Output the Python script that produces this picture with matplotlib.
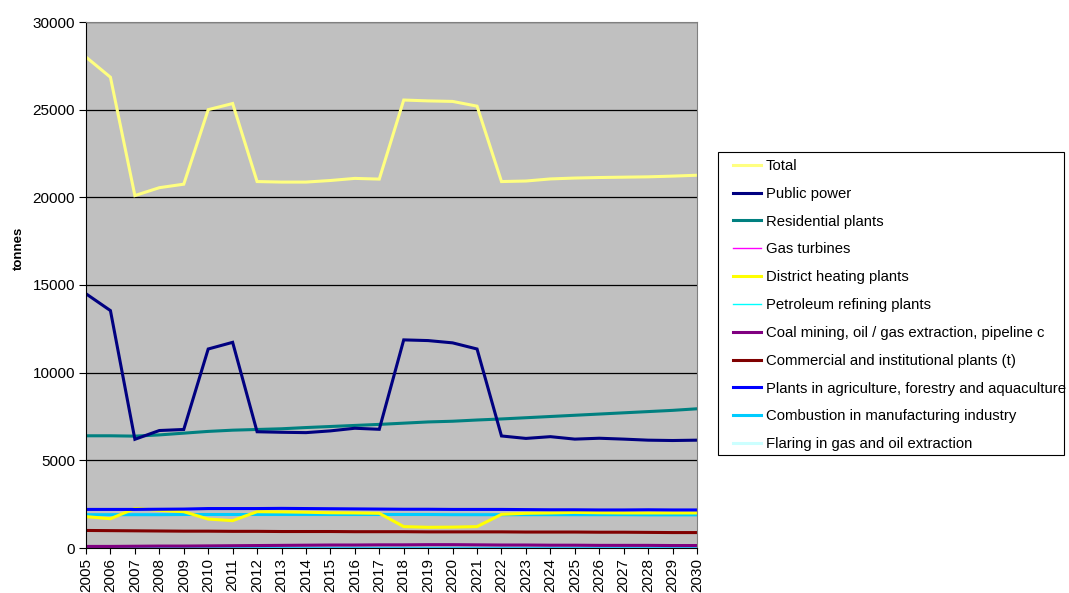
import matplotlib
matplotlib.use("Agg")
import matplotlib.pyplot as plt
from matplotlib.patches import Rectangle

plt.rcParams['font.family'] = ['Liberation Sans', 'DejaVu Sans']

years = list(range(2005, 2031))

total = [28000, 26850, 20100, 20550, 20750, 25000, 25350, 20900, 20870, 20870,
         20960, 21080, 21040, 25550, 25500, 25470, 25200, 20900, 20930, 21050,
         21100, 21130, 21150, 21170, 21210, 21260]
public_power = [14500, 13540, 6200, 6700, 6760, 11350, 11730, 6630, 6600, 6580,
                6680, 6830, 6770, 11870, 11830, 11700, 11350, 6390, 6250, 6350,
                6210, 6260, 6210, 6150, 6130, 6150]
residential = [6400, 6400, 6380, 6450, 6550, 6650, 6720, 6760, 6800, 6870,
               6930, 6990, 7050, 7120, 7190, 7230, 7300, 7360, 7430, 7500,
               7570, 7640, 7710, 7780, 7850, 7940]
gas_turbines = [20, 20, 20, 20, 20, 20, 20, 20, 20, 20,
                20, 20, 20, 20, 20, 20, 20, 20, 20, 20,
                20, 20, 20, 20, 20, 20]
district_heating = [1790, 1670, 2250, 2150, 2070, 1650, 1560, 2070, 2060, 2040,
                    2010, 2000, 1980, 1220, 1180, 1190, 1220, 1920, 1980, 2000,
                    2030, 2010, 2000, 2000, 2000, 2000]
petroleum = [40, 40, 40, 40, 40, 40, 40, 40, 40, 40,
             40, 40, 40, 40, 40, 40, 40, 40, 40, 40,
             40, 40, 40, 40, 40, 40]
coal_mining = [90, 90, 100, 110, 110, 120, 130, 140, 150, 160,
               170, 170, 180, 180, 190, 190, 180, 170, 170, 160,
               160, 150, 150, 150, 140, 140]
commercial = [1000, 990, 980, 970, 960, 960, 950, 950, 940, 940,
              940, 930, 930, 930, 920, 920, 920, 920, 910, 910,
              910, 900, 900, 890, 880, 880]
agriculture = [2200, 2200, 2200, 2210, 2220, 2250, 2250, 2250, 2260, 2250,
               2240, 2230, 2220, 2210, 2210, 2200, 2200, 2200, 2190, 2180,
               2180, 2170, 2170, 2180, 2170, 2170]
manufacturing = [1900, 1900, 1900, 1900, 1910, 1910, 1910, 1910, 1910, 1910,
                 1910, 1910, 1910, 1910, 1910, 1900, 1900, 1900, 1900, 1900,
                 1900, 1900, 1900, 1890, 1890, 1890]
flaring = [10, 10, 10, 10, 10, 10, 10, 10, 10, 10,
           10, 10, 10, 10, 10, 10, 10, 10, 10, 10,
           10, 10, 10, 10, 10, 10]

series = [
    ("Total", total, "#FFFF80", 2.2),
    ("Public power", public_power, "#000080", 2.2),
    ("Residential plants", residential, "#008080", 2.2),
    ("Gas turbines", gas_turbines, "#FF00FF", 1.0),
    ("District heating plants", district_heating, "#FFFF00", 2.2),
    ("Petroleum refining plants", petroleum, "#00FFFF", 1.0),
    ("Coal mining, oil / gas extraction, pipeline c", coal_mining, "#800080", 2.2),
    ("Commercial and institutional plants (t)", commercial, "#800000", 2.2),
    ("Plants in agriculture, forestry and aquaculture", agriculture, "#0000FF", 2.2),
    ("Combustion in manufacturing industry", manufacturing, "#00CCFF", 2.2),
    ("Flaring in gas and oil extraction", flaring, "#CCFFFF", 2.2),
]

W, H = 1069, 593
fig = plt.figure(figsize=(W / 100, H / 100), dpi=100)
ax = fig.add_axes([86 / W, 1 - 548 / H, (697 - 86) / W, (548 - 22) / H])
ax.set_facecolor("#C0C0C0")

draw_order = [10, 5, 3, 6, 7, 9, 4, 8, 2, 1, 0]
handles = {}
for i in draw_order:
    name, vals, col, lw = series[i]
    h, = ax.plot(years, vals, color=col, lw=lw, label=name, solid_joinstyle='miter')
    handles[i] = h

ax.set_xlim(2005, 2030)
ax.set_ylim(0, 30000)
ax.set_yticks(range(0, 30001, 5000))
ax.set_xticks(years)
ax.set_xticklabels([str(y) for y in years], rotation=90, fontsize=11)
ax.tick_params(axis='y', labelsize=11, length=5, direction='out', pad=3)
ax.tick_params(axis='x', length=4, direction='out', pad=3)
ax.yaxis.grid(True, color='black', lw=0.9)
ax.set_axisbelow(True)
for side in ('top', 'right'):
    ax.spines[side].set_color('#808080')
ax.spines['left'].set_color('black')
ax.spines['bottom'].set_color('black')
ax.set_ylabel("tonnes", fontsize=9.5, fontweight='bold')
ax.yaxis.set_label_coords(-(86 - 25) / (697 - 86), (548 - 248) / (548 - 22))

# legend box
fig.patches.append(Rectangle((718 / W, 1 - 455 / H), (1064 - 718) / W, (455 - 152) / H,
                             transform=fig.transFigure, facecolor='white',
                             edgecolor='black', lw=0.8, zorder=0))
fig.legend([handles[i] for i in range(len(series))],
           [s[0] for s in series],
           loc='upper left', bbox_to_anchor=(733 / W, 1 - 159 / H),
           prop={'size': 10.7}, frameon=False,
           handlelength=1.88, handletextpad=0.34, labelspacing=0.93,
           borderpad=0, borderaxespad=0)

fig.savefig("out.png", dpi=100, facecolor='white')
